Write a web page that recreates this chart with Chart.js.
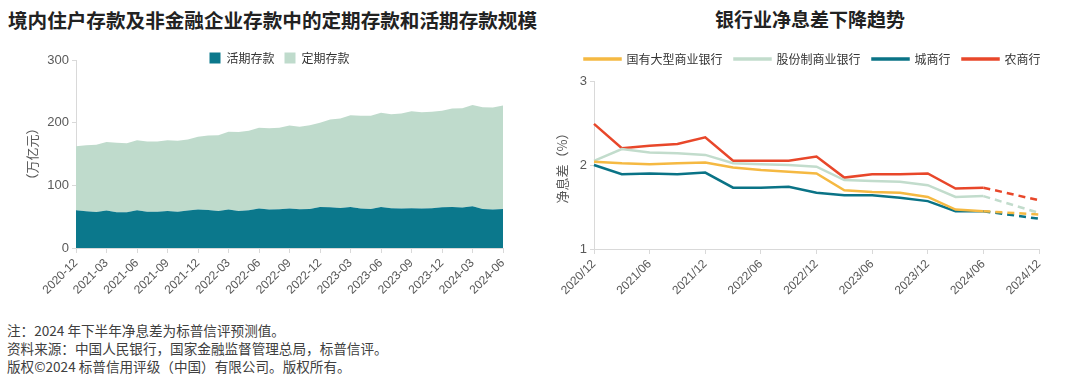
<!DOCTYPE html>
<html lang="zh-CN">
<head>
<meta charset="UTF-8">
<title>存款规模与净息差</title>
<script src="https://cdn.jsdelivr.net/npm/chart.js@4.4.1/dist/chart.umd.min.js"></script>
<style>
  body { margin: 0; width: 1080px; height: 377px; background: #fff; position: relative; overflow: hidden;
         font-family: "Noto Sans CJK SC", sans-serif; }
  .title { position: absolute; top: 5px; font-size: 19px; font-weight: bold; color: #222; white-space: nowrap; }
  .box { position: absolute; top: 0; width: 540px; height: 315px; }
  .note { position: absolute; left: 7px; top: 321px; font-size: 13.6px; line-height: 18px; color: #404040; }
</style>
</head>
<body>
<div class="title" style="left:8px;font-size:19.6px">境内住户存款及非金融企业存款中的定期存款和活期存款规模</div>
<div class="title" style="left:540px;width:540px;text-align:center">银行业净息差下降趋势</div>
<div class="box" style="left:0"><canvas id="depositChart"></canvas></div>
<div class="box" style="left:540px"><canvas id="nimChart"></canvas></div>
<div class="note">
  注：2024 年下半年净息差为标普信评预测值。<br>
  资料来源：中国人民银行，国家金融监督管理总局，标普信评。<br>
  版权©2024 标普信用评级（中国）有限公司。版权所有。
</div>

<script>
// 左图：月度存款（万亿元）
const depositMonths = [
  '2020-12',
  '2021-01','2021-02','2021-03','2021-04','2021-05','2021-06','2021-07','2021-08','2021-09','2021-10','2021-11','2021-12',
  '2022-01','2022-02','2022-03','2022-04','2022-05','2022-06','2022-07','2022-08','2022-09','2022-10','2022-11','2022-12',
  '2023-01','2023-02','2023-03','2023-04','2023-05','2023-06','2023-07','2023-08','2023-09','2023-10','2023-11','2023-12',
  '2024-01','2024-02','2024-03','2024-04','2024-05','2024-06'
];
const demandDeposits = [
  60.2, 58.6, 57.5, 59.7, 57.0, 57.0, 60.2, 58.0, 58.0, 59.1, 58.0, 59.7, 61.3,
  60.7, 59.1, 61.3, 59.1, 60.2, 62.9, 61.3, 61.8, 62.9, 61.8, 62.3, 65.5,
  65.0, 64.0, 65.5, 62.9, 62.3, 65.5, 63.4, 62.9, 63.4, 62.9, 63.4, 65.0,
  65.5, 64.5, 66.6, 62.3, 61.3, 62.3
];
const timeDeposits = [
  102.3, 105.4, 107.1, 109.3, 111.0, 110.0, 111.8, 112.0, 112.0, 112.9, 113.0, 113.3, 116.2,
  118.8, 120.9, 124.1, 125.9, 126.8, 129.1, 129.7, 130.2, 132.6, 131.6, 133.7, 134.5,
  140.0, 142.7, 146.5, 148.1, 148.7, 150.5, 150.2, 151.8, 155.0, 153.9, 154.0, 154.0,
  157.2, 158.5, 161.4, 162.5, 163.0, 165.2
];

// 右图：季度净息差（%），2024/12 为预测值
const nimQuarters = ['2020/12','2021/03','2021/06','2021/09','2021/12','2022/03','2022/06','2022/09','2022/12',
                     '2023/03','2023/06','2023/09','2023/12','2024/03','2024/06','2024/09','2024/12'];
const stateOwned = [2.04, 2.02, 2.01, 2.02, 2.03, 1.97, 1.94, 1.92, 1.90, 1.70, 1.68, 1.67, 1.62, 1.47, 1.45, null, null];
const jointStock = [2.05, 2.19, 2.15, 2.14, 2.12, 2.02, 2.01, 2.00, 1.98, 1.82, 1.81, 1.80, 1.76, 1.62, 1.63, null, null];
const cityBanks  = [2.00, 1.89, 1.90, 1.89, 1.91, 1.73, 1.73, 1.74, 1.67, 1.64, 1.64, 1.61, 1.57, 1.45, 1.45, null, null];
const ruralBanks = [2.49, 2.20, 2.23, 2.25, 2.33, 2.05, 2.05, 2.05, 2.10, 1.85, 1.89, 1.89, 1.90, 1.72, 1.73, null, null];
const stateOwnedFc = [null,null,null,null,null,null,null,null,null,null,null,null,null,null, 1.45, null, 1.41];
const jointStockFc = [null,null,null,null,null,null,null,null,null,null,null,null,null,null, 1.63, null, 1.43];
const cityBanksFc  = [null,null,null,null,null,null,null,null,null,null,null,null,null,null, 1.45, null, 1.36];
const ruralBanksFc = [null,null,null,null,null,null,null,null,null,null,null,null,null,null, 1.73, null, 1.58];

const TEAL = '#0b788c', MINT = '#bfdbcc', YELLOW = '#f5b942', SAGE = '#c2dccc', DARKTEAL = '#0a7386', RED = '#e8472a';
const AXIS = '#d9d9d9', TICK = '#595959';
const numFont = { family: '"Liberation Sans", "Noto Sans CJK SC", sans-serif', size: 13 };
const cjkFont = { family: '"Noto Sans CJK SC", sans-serif', size: 13 };
const legendFont = { family: '"Noto Sans CJK SC", sans-serif', size: 12 };

// 把图例挪一点，贴近原图位置
const legendShift = {
  id: 'legendShift',
  afterLayout(chart, args, opts) {
    const lg = chart.legend;
    if (!lg) return;
    lg.top += opts.dy || 0; lg.bottom += opts.dy || 0;
    lg.left += opts.dx || 0; lg.right += opts.dx || 0;
  }
};
Chart.register(legendShift);

new Chart(document.getElementById('depositChart'), {
  type: 'line',
  data: {
    labels: depositMonths,
    datasets: [
      { label: '活期存款', data: demandDeposits, backgroundColor: TEAL, borderWidth: 0, pointRadius: 0, fill: 'origin' },
      { label: '定期存款', data: timeDeposits, backgroundColor: MINT, borderWidth: 0, pointRadius: 0, fill: '-1' }
    ]
  },
  options: {
    responsive: true, maintainAspectRatio: false, animation: false,
    layout: { padding: { top: 28, left: 24, right: 37, bottom: 0 } },
    plugins: {
      legend: {
        position: 'top', align: 'center',
        labels: { boxWidth: 11, boxHeight: 11, padding: 10, color: '#333', font: legendFont }
      },
      legendShift: { dy: 14, dx: 16 },
      tooltip: { enabled: false }
    },
    scales: {
      x: {
        stacked: true,
        afterFit: s => { s.height = 67; },
        border: { color: AXIS },
        grid: { drawOnChartArea: false, tickLength: 5, color: c => c.index % 3 === 0 ? AXIS : 'transparent' },
        ticks: {
          autoSkip: false, maxRotation: 45, minRotation: 45, color: TICK, font: { ...numFont, size: 12 },
          callback(v, i) { return i % 3 === 0 ? this.getLabelForValue(v) : ''; }
        }
      },
      y: {
        stacked: true, min: 0, max: 300,
        afterFit: s => { s.width = 52; },
        border: { color: AXIS },
        grid: { drawOnChartArea: false, tickLength: 4, color: AXIS },
        ticks: { stepSize: 100, color: TICK, font: numFont },
        title: { display: true, text: '（万亿元）', color: TICK, font: cjkFont, padding: 0 }
      }
    }
  }
});

const solid = (label, data, color) => ({ label, data, borderColor: color, backgroundColor: color,
  borderWidth: 2.5, pointRadius: 0, tension: 0, fill: false });
const dashed = (data, color) => ({ label: '', data, borderColor: color, backgroundColor: color,
  borderWidth: 2.5, borderDash: [7, 5], pointRadius: 0, tension: 0, fill: false, spanGaps: true });

new Chart(document.getElementById('nimChart'), {
  type: 'line',
  data: {
    labels: nimQuarters,
    datasets: [
      solid('国有大型商业银行', stateOwned, YELLOW),
      solid('股份制商业银行', jointStock, SAGE),
      solid('城商行', cityBanks, DARKTEAL),
      solid('农商行', ruralBanks, RED),
      dashed(jointStockFc, SAGE),
      dashed(stateOwnedFc, YELLOW),
      dashed(cityBanksFc, DARKTEAL),
      dashed(ruralBanksFc, RED)
    ]
  },
  options: {
    responsive: true, maintainAspectRatio: false, animation: false,
    layout: { padding: { top: 47, left: 14, right: 41, bottom: 0 } },
    plugins: {
      legend: {
        position: 'top', align: 'center',
        labels: {
          boxWidth: 36, boxHeight: 1, padding: 12, color: '#333', font: legendFont,
          filter: item => item.datasetIndex < 4
        }
      },
      legendShift: { dy: -6, dx: 16 },
      tooltip: { enabled: false }
    },
    scales: {
      x: {
        afterFit: s => { s.height = 66; },
        border: { color: AXIS },
        grid: { drawOnChartArea: false, tickLength: 5, color: c => c.index % 2 === 0 ? AXIS : 'transparent' },
        ticks: {
          autoSkip: false, maxRotation: 45, minRotation: 45, color: TICK, font: { ...numFont, size: 12 },
          callback(v, i) { return i % 2 === 0 ? this.getLabelForValue(v) : ''; }
        }
      },
      y: {
        min: 1, max: 3,
        afterFit: s => { s.width = 40; },
        border: { color: AXIS },
        grid: { drawOnChartArea: false, tickLength: 4, color: AXIS },
        ticks: { stepSize: 1, color: TICK, font: numFont },
        title: { display: true, text: '净息差（%）', color: TICK, font: cjkFont, padding: 0 }
      }
    }
  }
});
</script>
</body>
</html>
